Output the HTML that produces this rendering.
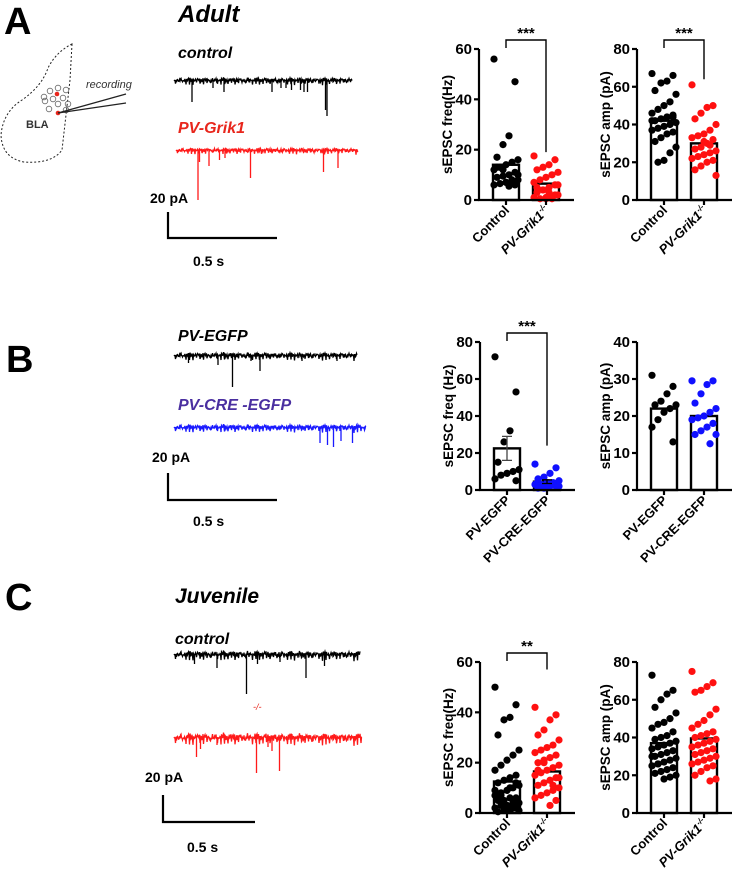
<!DOCTYPE html>
<html><head><meta charset="utf-8"><style>
html,body{margin:0;padding:0;background:#fff;}
svg{display:block;font-family:"Liberation Sans",Arial,sans-serif;}
</style></head><body>
<svg id="fig" width="732" height="882" viewBox="0 0 732 882" xmlns="http://www.w3.org/2000/svg">
<text x="4" y="34" font-size="38" font-weight="bold">A</text>
<text x="178" y="22" font-size="24" font-weight="bold" font-style="italic">Adult</text>
<text x="178" y="58" font-size="16" font-weight="bold" font-style="italic">control</text>
<text x="178" y="133" font-size="16" font-weight="bold" font-style="italic" fill="#e8261c">PV-Grik1</text>

<text x="6" y="372" font-size="38" font-weight="bold">B</text>
<text x="178" y="341" font-size="16" font-weight="bold" font-style="italic">PV-EGFP</text>
<text x="178" y="410" font-size="16" font-weight="bold" font-style="italic" fill="#4a2fa0">PV-CRE -EGFP</text>

<text x="5" y="610" font-size="38" font-weight="bold">C</text>
<text x="175" y="603" font-size="21" font-weight="bold" font-style="italic">Juvenile</text>
<text x="175" y="644" font-size="16" font-weight="bold" font-style="italic">control</text>
<text x="253" y="710" font-size="9" font-style="italic" fill="#e8261c">-/-</text>

<g>
<path d="M72,44 L70,80 Q66,115 62,150 Q52,164 24,162 Q2,158 1,135 Q3,112 22,100 Q42,86 48,68 Q56,52 72,44 Z" fill="none" stroke="#222" stroke-width="1" stroke-dasharray="2,2"/>
<g fill="none" stroke="#666" stroke-width="0.8">
<circle cx="50" cy="91" r="2.8"/><circle cx="58" cy="88" r="2.8"/><circle cx="66" cy="90" r="2.8"/>
<circle cx="44" cy="97" r="2.8"/><circle cx="53" cy="99" r="2.8"/><circle cx="63" cy="98" r="2.8"/><circle cx="68" cy="104" r="2.8"/>
<circle cx="45" cy="101" r="2.8"/><circle cx="58" cy="104" r="2.8"/><circle cx="49" cy="109" r="2.8"/><circle cx="66" cy="110" r="2.8"/>
</g>
<circle cx="57" cy="94" r="2.3" fill="#e8261c"/>
<circle cx="58" cy="113" r="2.3" fill="#e8261c"/>
<line x1="58" y1="113" x2="126" y2="94" stroke="#222" stroke-width="1.3"/>
<line x1="58" y1="113" x2="126" y2="103" stroke="#222" stroke-width="1.3"/>
<text x="86" y="88" font-size="11" font-style="italic" fill="#333">recording</text>
<text x="26" y="128" font-size="11" font-weight="bold" fill="#333">BLA</text>
</g>

<g>
<text x="150" y="203" font-size="14" font-weight="bold">20 pA</text>
<path d="M168,212 L168,238 L277,238" fill="none" stroke="#000" stroke-width="2.2"/>
<text x="193" y="266" font-size="14" font-weight="bold">0.5 s</text>
</g>
<g>
<text x="152" y="462" font-size="14" font-weight="bold">20 pA</text>
<path d="M168,473 L168,500 L277,500" fill="none" stroke="#000" stroke-width="2.2"/>
<text x="193" y="526" font-size="14" font-weight="bold">0.5 s</text>
</g>
<g>
<text x="145" y="782" font-size="14" font-weight="bold">20 pA</text>
<path d="M163,795 L163,822 L255,822" fill="none" stroke="#000" stroke-width="2.2"/>
<text x="187" y="852" font-size="14" font-weight="bold">0.5 s</text>
</g>
<g id="traces"></g>
<g id="charts"></g>
</svg>
<script>
const traceA1Pos=[0.10,0.22,0.28,0.55,0.60,0.63,0.66,0.71,0.73,0.75,0.85,0.86];
const traceA1Amp=[22,8,12,12,8,8,10,10,12,12,30,36];
const traceA2Pos=[0.12,0.13,0.18,0.24,0.27,0.41,0.81,0.89];
const traceA2Amp=[50,12,16,10,8,28,22,18];
const traceB1Pos=[0.08,0.24,0.32,0.42,0.47,0.70,0.89];
const traceB1Amp=[8,10,32,6,16,6,6];
const traceB2Pos=[0.76,0.80,0.83,0.87,0.93];
const traceB2Amp=[16,18,20,14,16];
const traceC1Pos=[0.11,0.23,0.39,0.45,0.57,0.71,0.81];
const traceC1Amp=[10,14,40,10,8,24,12];
const traceC2Pos=[0.12,0.14,0.23,0.44,0.50,0.52,0.56];
const traceC2Amp=[20,12,8,36,10,14,34];

const ctrlFreqA=[56,47,25.5,22,17,16,15,14,13,12,11,10,9.5,9,8,7.5,7,6.5,6,6,5.5,12,13,10,8,7];
const grikFreqA=[17.5,16,14,13,12,11,10,9,8,7,6,5,4,3,2,1,0.5,0.5,1,2,3,4,5,6,0.5,1];
const meansFreqA=[14,6.5];
const ctrlAmpA=[67,66,63,62,58,56,52,50,48,46,45,44,43,42,41,40,39,38,37,36,35,33,31,28,25,21,20,42,44];
const grikAmpA=[61,50,49,46,43,40,37,35,34,33,32,30,28,27,26,25,24,23,22,21,20,18,16,13,29,31];
const meansAmpA=[42,30];
const egfpFreqB=[72,53,32,26,15,11,10,9,8,6,5];
const creFreqB=[14,12,9,7,6,5,4,4,3,3,2,2,1,1,2,3];
const meansFreqB=[22.5,4.5];
const semFreqB=[6.5,1];
const egfpAmpB=[31,28,26,24,23,23,22,21,19,17,13];
const creAmpB=[29.5,29.5,28.5,26,23.5,22,21,20,19.5,19,18,17,16,15,15,12.5];
const meansAmpB=[22,20];
const ctrlFreqC=[50,43,38,37,31,25,23,21,19,17,15,14,13,12,11,10,9,8,7,6,6,5,5,4,4,3,3,2,2,1,1,0.5,1,2,3,7,9,12,10];
const grikFreqC=[42,39,37,33,31,29,27,26,25,24,23,22,21,20,19,18,17,16,15,14,13,12,11,10,9,8,7,6,5,3,20,17,14,11];
const meansFreqC=[12.5,16.5];
const ctrlAmpC=[73,65,63,60,56,53,50,48,47,45,43,41,40,39,38,37,36,35,34,33,32,31,30,29,28,27,26,25,24,23,22,21,20,19,18,26,30];
const grikAmpC=[75,69,67,65,64,55,52,49,47,45,43,42,41,40,39,38,37,36,35,34,33,32,31,30,29,28,27,26,25,24,22,20,18,17];
const meansAmpC=[37,39.5];
const ticksF60=[0,20,40,60];
const ticksF80=[0,20,40,60,80];
const ticksA40=[0,10,20,30,40];

const NS="http://www.w3.org/2000/svg";
function mk(tag,attrs,parent){const e=document.createElementNS(NS,tag);for(const k in attrs)e.setAttribute(k,attrs[k]);parent.appendChild(e);return e;}

const tracesG=document.getElementById('traces');
function trace(x0,x1,y,pos,amp,color,name,noise){
  let d='';const n=Math.round((x1-x0)*2);
  const spikes={};pos.forEach((p,i)=>{spikes[Math.round(p*n)]=amp[i];});
  for(let i=0;i<=n;i++){
    const x=x0+(x1-x0)*i/n;
    let yy=y+noise*(Math.sin(i*1.7)*0.7+Math.sin(i*4.3)*0.6+Math.sin(i*0.37)*0.5+Math.sin(i*2.9)*0.4);
    if(spikes[i]!==undefined){d+=(i?'L':'M')+x.toFixed(1)+','+yy.toFixed(1)+'L'+x.toFixed(1)+','+(y+spikes[i]).toFixed(1);}
    else if(i%7===3){yy+=noise*2.6;}
    d+=(i||spikes[i]!==undefined?'L':'M')+x.toFixed(1)+','+yy.toFixed(1);
  }
  const p=mk('path',{d:d,fill:'none',stroke:color,'stroke-width':1.3},tracesG);
  
  
}
trace(174,352,80,traceA1Pos,traceA1Amp,'#000','trace-control-adult',1.3);
trace(176,358,150,traceA2Pos,traceA2Amp,'#ff1a1a','trace-pv-grik1-adult',1.1);
trace(174,357,355,traceB1Pos,traceB1Amp,'#000','trace-pv-egfp',1.4);
trace(174,366,427,traceB2Pos,traceB2Amp,'#1a1aff','trace-pv-cre-egfp',1.4);
trace(174,360,654,traceC1Pos,traceC1Amp,'#000','trace-control-juvenile',1.7);
trace(174,362,737,traceC2Pos,traceC2Amp,'#ff1a1a','trace-pv-grik1-juvenile',2.1);

const chartsG=document.getElementById('charts');
function chart(o){
  const g=mk('g',{},chartsG);
  
  
  const ymax=o.ticks[o.ticks.length-1];
  const Y=v=>o.y0-(v/ymax)*(o.y0-o.yTop);
  const cx=[o.ax+27,o.ax+67];
  o.means.forEach((m,i)=>{
    const b=mk('rect',{x:cx[i]-13,y:Y(m),width:26,height:o.y0-Y(m),fill:'#fff',stroke:'#000','stroke-width':2.4},g);
    
    
  });
  [o.d1,o.d2].forEach((arr,gi)=>{
    arr.forEach((v,i)=>{
      const off=(((i*7)%9)-4)*3.0;
      const c=mk('circle',{cx:cx[gi]+off,cy:Y(v),r:3.6,fill:o.colors[gi]},g);
      
      
    });
  });
  if(o.sem){o.sem.forEach((s,i)=>{
    const e=mk('path',{d:`M${cx[i]},${Y(o.means[i]+s)}L${cx[i]},${Y(o.means[i]-s)}M${cx[i]-5},${Y(o.means[i]+s)}L${cx[i]+5},${Y(o.means[i]+s)}M${cx[i]-5},${Y(o.means[i]-s)}L${cx[i]+5},${Y(o.means[i]-s)}`,stroke:i?'#000':'#444','stroke-width':1.3,fill:'none'},g);
    
    
  });}
  const ax=mk('path',{d:`M${o.ax},${o.yTop}L${o.ax},${o.y0}L${o.ax+95},${o.y0}M${cx[0]},${o.y0}L${cx[0]},${o.y0+5}M${cx[1]},${o.y0}L${cx[1]},${o.y0+5}`,stroke:'#000','stroke-width':2.2,fill:'none'},g);
  
  
  o.ticks.forEach(t=>{
    mk('line',{x1:o.ax-5,x2:o.ax,y1:Y(t),y2:Y(t),stroke:'#000','stroke-width':2.2},g);
    const tl=mk('text',{x:o.ax-7,y:Y(t)+5,'font-size':15,'font-weight':'bold','text-anchor':'end'},g);
    tl.textContent=t;
    
    
  });
  const yt=mk('text',{transform:`translate(${o.ax-27},${(o.y0+o.yTop)/2}) rotate(-90)`,'font-size':13.5,'font-weight':'bold','text-anchor':'middle'},g);
  yt.textContent=o.ytitle;
  
  
  o.labels.forEach((l,i)=>{
    const t=mk('text',{transform:`translate(${cx[i]+4},${o.y0+11}) rotate(-45)`,'font-size':13,'font-weight':'bold','text-anchor':'end'},g);
    
    
    if(l==='grik'){
      t.setAttribute('font-style','italic');
      t.appendChild(document.createTextNode('PV-Grik1'));
      const s=mk('tspan',{'font-size':8,dy:-5},t);s.textContent='-/-';
    } else t.textContent=l;
  });
  if(o.sig){
    const by=o.yTop-9;
    const br=mk('path',{d:`M${cx[0]},${by+8}L${cx[0]},${by}L${cx[1]},${by}L${cx[1]},${Y(o.sigEnd)}`,stroke:'#000','stroke-width':1.4,fill:'none'},g);
    
    
    const st=mk('text',{x:(cx[0]+cx[1])/2,y:by-2,'font-size':15,'font-weight':'bold','text-anchor':'middle'},g);
    st.textContent=o.sig;
    
    
  }
}
chart({name:'chart-a-freq',ax:479,y0:200,yTop:49,ticks:ticksF60,means:meansFreqA,d1:ctrlFreqA,d2:grikFreqA,colors:['#000','#ff1010'],groups:['control','pv-grik1'],labels:['Control','grik'],ytitle:'sEPSC freq(Hz)',sig:'***',sigEnd:19});
chart({name:'chart-a-amp',ax:637,y0:200,yTop:49,ticks:ticksF80,means:meansAmpA,d1:ctrlAmpA,d2:grikAmpA,colors:['#000','#ff1010'],groups:['control','pv-grik1'],labels:['Control','grik'],ytitle:'sEPSC amp (pA)',sig:'***',sigEnd:64});
chart({name:'chart-b-freq',ax:480,y0:490,yTop:342,ticks:ticksF80,means:meansFreqB,sem:semFreqB,d1:egfpFreqB,d2:creFreqB,colors:['#000','#1010ff'],groups:['pv-egfp','pv-cre-egfp'],labels:['PV-EGFP','PV-CRE-EGFP'],ytitle:'sEPSC freq (Hz)',sig:'***',sigEnd:24});
chart({name:'chart-b-amp',ax:637,y0:490,yTop:342,ticks:ticksA40,means:meansAmpB,d1:egfpAmpB,d2:creAmpB,colors:['#000','#1010ff'],groups:['pv-egfp','pv-cre-egfp'],labels:['PV-EGFP','PV-CRE-EGFP'],ytitle:'sEPSC amp (pA)'});
chart({name:'chart-c-freq',ax:480,y0:813,yTop:662,ticks:ticksF60,means:meansFreqC,d1:ctrlFreqC,d2:grikFreqC,colors:['#000','#ff1010'],groups:['control','pv-grik1'],labels:['Control','grik'],ytitle:'sEPSC freq(Hz)',sig:'**',sigEnd:57});
chart({name:'chart-c-amp',ax:637,y0:813,yTop:662,ticks:ticksF80,means:meansAmpC,d1:ctrlAmpC,d2:grikAmpC,colors:['#000','#ff1010'],groups:['control','pv-grik1'],labels:['Control','grik'],ytitle:'sEPSC amp (pA)'});
</script>
</body></html>
